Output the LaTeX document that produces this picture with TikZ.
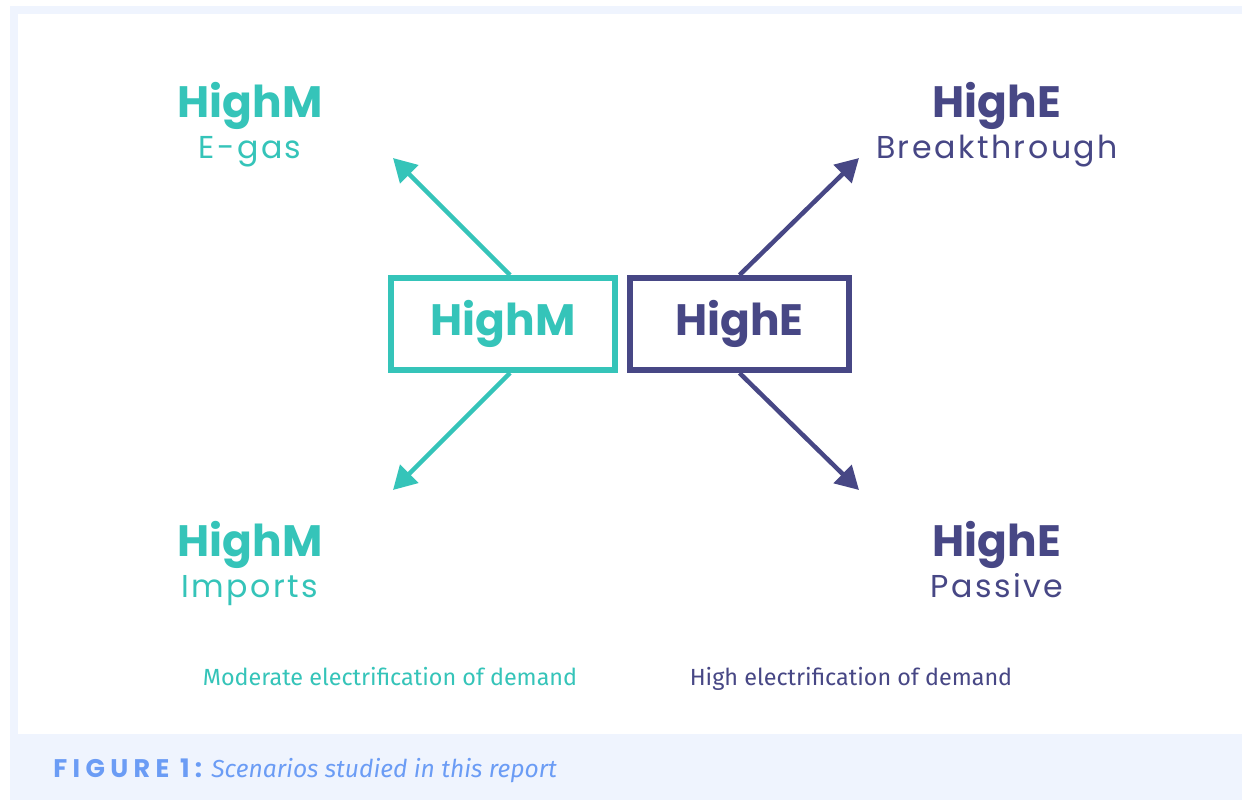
\documentclass[tikz,border=0pt]{standalone}
\usepackage{fontspec}
\setmainfont{Poppins}
\newfontfamily\labelfont{Fira Sans}
\usetikzlibrary{arrows.meta, positioning}

\definecolor{teal}{HTML}{35C4B9}
\definecolor{plum}{HTML}{474785}
\definecolor{capblue}{HTML}{6B9CF5}
\definecolor{paleblue}{HTML}{EFF4FE}

\begin{document}
\begin{tikzpicture}[
  x=0.02cm, y=-0.02cm,
  head/.style={anchor=base, font=\fontsize{25}{30}\selectfont\bfseries},
  sub/.style={anchor=base, font=\fontsize{18}{22}\selectfont\addfontfeature{LetterSpace=8}},
  group/.style={anchor=base, font=\labelfont\fontsize{13.3}{16}\selectfont},
  scen/.style={draw, line width=0.12cm, minimum height=1.84cm, inner sep=0pt,
    font=\fontsize{25}{30}\selectfont\bfseries},
  branch/.style={line width=0.09cm, -{Triangle[length=0.46cm,width=0.5cm]}}]

  % frame and caption band
  \fill[paleblue] (10,6) rectangle (1242,800);
  \fill[white] (18,14) rectangle (1242,734);
  \useasboundingbox (0,0) rectangle (1242,802);

  % the two starting points
  \node[scen, teal, minimum width=4.48cm] (hm) at (503,324) {HighM};
  \node[scen, plum, minimum width=4.38cm] (he) at (739.5,324) {HighE};

  % scenarios
  \node[head, text=teal] (egash) at (250,117) {HighM};
  \node[sub, text=teal] (egas) at (250,158) {E-gas};
  \node[head, text=teal] (imph) at (250,556) {HighM};
  \node[sub, text=teal] (imp) at (250,597) {Imports};
  \node[head, text=plum] (breakh) at (997,117) {HighE};
  \node[sub, text=plum] (break) at (997,158) {Breakthrough};
  \node[head, text=plum] (passh) at (997,556) {HighE};
  \node[sub, text=plum] (pass) at (997,597) {Passive};

  \coordinate (tl) at (393,158);
  \coordinate (bl) at (393,490);
  \coordinate (tr) at (859,158);
  \coordinate (br) at (859,490);

  \draw[branch, teal] ([xshift=0.14cm]hm.north) -- (tl);
  \draw[branch, teal] ([xshift=0.14cm]hm.south) -- (bl);
  \draw[branch, plum] (he.north) -- (tr);
  \draw[branch, plum] (he.south) -- (br);

  \node[group, text=teal] (mod) at (390,685) {Moderate electrification of demand};
  \node[group, text=plum] (high) at (851,685) {High electrification of demand};

  % caption
  \node[anchor=base west, inner sep=0pt, text=capblue] (cap) at (53,777)
    {{\fontsize{14.5}{18}\selectfont\bfseries\addfontfeature{LetterSpace=21}FIGURE 1:}\,
     {\labelfont\itshape\fontsize{14}{18}\selectfont Scenarios studied in this report}};
\end{tikzpicture}
\end{document}
